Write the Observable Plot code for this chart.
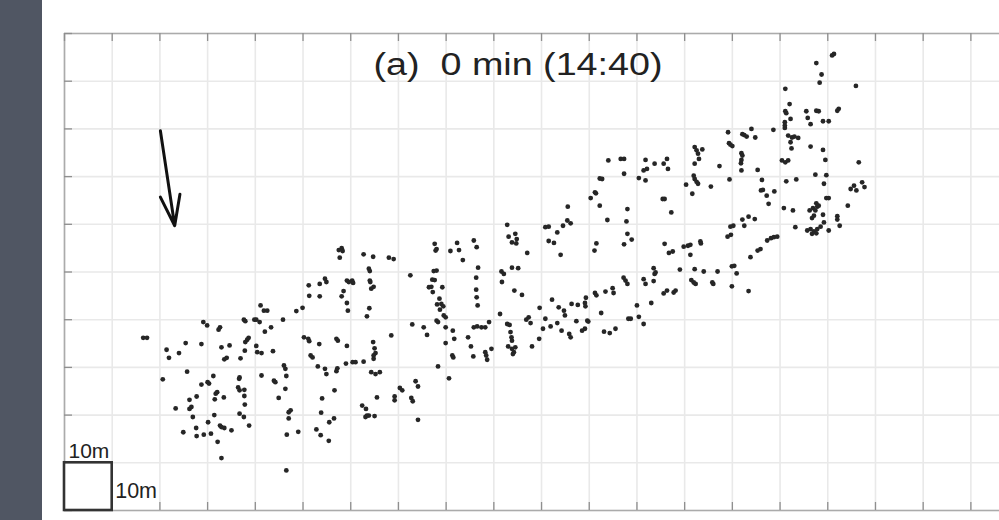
<!DOCTYPE html>
<html>
<head>
<meta charset="utf-8">
<script src="https://cdn.jsdelivr.net/npm/d3@7"></script>
<script src="https://cdn.jsdelivr.net/npm/@observablehq/plot@0.6"></script>
<style>
  html, body { margin: 0; padding: 0; }
  body {
    width: 999px; height: 520px; overflow: hidden;
    background: linear-gradient(to right, #505663 0, #505663 42px, #ffffff 42px);
    font-family: "Liberation Sans", Arial, sans-serif;
  }
  #chart { position: absolute; left: 0; top: 0; }
</style>
</head>
<body>
<div id="chart"></div>
<script>
// Title and annotations
const titleText = "(a)  0 min (14:40)";
const scaleLabel = "10m";
const scaleSize = 10;            // metres, side of the scale square

// Grid every 10 m
const gridX = d3.range(0, 200, 10);
const gridY = d3.range(0, 101, 10);

// Walking direction arrow, [x, y] in metres
const arrowStart = [20.1, 79.6];
const arrowEnd = [23.1, 59.7];

// Pedestrian positions [x, y] in metres, west part of the crowd
const westGroup = [
  [51.2,47.2],[53.5,47.5],[54.9,47.9],[54.6,48.6],[51.3,45.0],[53.5,44.9],[41.1,43.0],[41.8,41.9],[42.5,41.9],
  [48.6,41.8],[49.9,42.5],[29.1,39.5],[29.9,38.8],[32.3,37.9],[32.6,38.4],[37.6,40.0],[37.9,39.7],
  [39.8,40.0],[40.2,40.0],[40.9,39.5],[45.8,40.0],[42.0,37.5],[43.3,38.4],[16.5,36.2],[17.3,36.2],
  [25.4,35.1],[28.7,34.9],[21.4,33.7],[21.9,32.0],[24.0,33.0],[32.9,34.2],[34.6,34.6],[37.9,35.3],
  [38.3,35.8],[38.6,36.2],[37.8,33.5],[40.2,34.5],[40.4,33.2],[41.3,33.0],[43.7,33.4],[33.5,31.7],
  [34.0,32.0],[36.9,31.9],[50.2,36.3],[51.1,36.0],[51.3,35.5],[53.4,34.9],[51.6,32.5],[52.0,32.1],
  [53.1,30.2],[54.6,29.7],[54.9,28.6],[20.6,27.5],[25.7,29.1],[28.7,26.4],[30.0,26.9],[30.3,26.6],
  [31.2,28.2],[36.6,27.6],[36.7,27.9],[41.3,28.3],[43.9,27.2],[44.2,26.9],[46.0,30.4],[46.3,29.7],
  [46.5,28.2],[46.3,25.5],[36.4,25.8],[36.7,25.2],[37.7,25.3],[37.7,24.0],[37.8,22.2],[31.7,24.5],
  [32.0,24.8],[31.5,23.3],[33.4,23.7],[27.7,23.9],[26.2,23.2],[23.3,21.4],[26.2,21.3],[26.6,21.7],
  [26.9,19.6],[31.4,20.0],[36.7,20.3],[37.6,19.6],[38.7,17.8],[44.9,23.6],[47.0,20.6],[47.4,21.0],
  [47.0,19.3],[24.9,16.4],[27.6,17.3],[27.7,15.6],[29.2,15.9],[30.1,18.5],[30.7,16.1],[32.6,17.8],
  [32.9,17.5],[33.5,17.3],[35.0,16.8],[32.1,14.4],[32.9,11.0],[46.6,15.9],[49.0,16.5],[46.5,8.4],
  [54.0,23.5],[53.8,20.5],[52.8,17.0],[53.7,15.8],[55.4,14.6],[55.5,18.5]
];

// Central part of the crowd
const centralGroup = [
  [56.6,25.2],[56.5,19.3],[57.0,29.2],[57.2,29.8],[59.0,30.8],[60.4,31.1],[61.0,31.1],[62.7,31.2],
  [64.3,29.0],[65.2,28.6],[66.1,29.0],[62.4,22.0],[63.2,21.3],[63.4,19.9],[63.1,19.6],[63.8,19.9],
  [65.0,19.8],[65.5,23.7],[69.2,23.9],[69.2,23.1],[70.3,25.7],[70.8,25.2],[72.7,23.6],[73.0,22.9],
  [73.6,27.1],[74.1,26.0],[74.1,19.0],[78.3,30.2],[80.6,27.7],[88.6,31.6],
  [57.5,54.6],[58.1,55.0],[58.3,54.4],[57.7,53.0],[62.7,53.7],[64.7,53.2],[68.0,53.0],[69.0,52.7],
  [77.6,55.9],[77.8,54.5],[78.0,54.8],[80.9,54.4],[82.3,56.1],[82.7,54.6],[83.5,52.5],[85.8,56.6],
  [86.4,55.2],[63.8,50.7],[64.0,50.2],[72.5,49.3],[77.4,50.2],[78.0,50.3],[86.7,50.9],[59.2,48.2],
  [59.6,47.9],[60.3,48.2],[60.5,47.7],[58.5,46.0],[58.1,44.9],[59.2,43.5],[59.4,41.9],[64.0,48.2],
  [64.1,47.9],[64.8,46.9],[64.3,46.5],[63.9,42.4],[63.4,40.7],[77.1,48.4],[77.6,48.3],[76.9,46.9],
  [76.4,46.8],[77.2,45.8],[79.2,46.8],[78.6,44.4],[78.1,43.2],[79.0,43.3],[79.4,42.8],[78.7,42.1],
  [79.5,40.9],[79.9,40.5],[86.3,48.8],[86.3,46.3],[86.4,44.7],[86.6,43.0],[57.0,36.0],[57.3,35.6],
  [59.2,34.5],[64.7,35.3],[65.0,34.0],[65.2,33.0],[64.8,32.5],[64.8,31.8],[68.5,36.7],[72.9,39.0],
  [75.3,38.4],[76.0,36.8],[78.0,39.8],[78.3,39.5],[79.9,38.4],[81.4,37.7],[81.7,36.0],[79.9,35.1],
  [81.3,32.5],[81.5,32.1],[84.6,36.3],[85.2,34.4],[85.7,32.3],[85.8,38.4],[86.5,38.6],[87.4,38.4],
  [88.2,38.4],[89.0,39.5],[88.2,33.2],[88.4,32.5],[89.5,33.9]
];

// Lower band of the east part
const eastLowerGroup = [
  [92.8,39.1],[93.3,38.9],[93.5,37.4],[93.7,36.3],[93.8,35.6],[93.0,34.4],[93.8,33.9],[94.2,33.2],
  [94.5,34.2],[94.0,32.8],[96.8,40.0],[97.3,40.5],[97.7,39.3],[98.0,34.4],[99.5,36.0],[100.3,38.1],
  [100.8,40.2],[101.9,38.6],[103.3,39.3],[104.2,37.7],[105.8,37.0],[106.1,36.3],[107.3,39.7],
  [108.5,37.7],[109.1,38.1],[109.6,39.8],[109.8,39.6],[113.1,37.5],[114.3,37.2],[115.5,38.1],
  [91.3,41.2],[99.6,42.5],[102.2,44.2],[103.6,42.6],[104.7,41.9],[104.9,40.9],[106.3,43.3],
  [107.6,43.1],[109.1,43.5],[109.3,44.6],[109.2,42.8],[111.2,45.6],[111.5,45.1],[113.4,45.9],
  [114.9,46.6],[115.1,45.6],[117.2,48.8],[117.6,48.2],[118.0,47.5],[112.5,41.4],[120.0,43.0],
  [120.4,40.6],[121.4,39.1],[123.0,43.5],[118.2,40.2],[118.7,40.2],[94.3,46.1],[95.9,45.2],
  [91.6,50.1],[92.1,49.6],[93.8,50.9],[95.1,50.8],[91.7,47.9],
  [121.4,48.5],[121.8,47.5],[123.5,48.1],[131.4,48.3],[131.9,47.8],[132.3,47.5],[135.8,47.8],
  [136.0,47.5],[139.9,47.0],[125.6,45.5],[126.3,46.1],[127.7,45.7],[128.1,46.1],[143.4,46.0],
  [123.5,50.8],[123.9,49.9],[123.7,49.6],[129.0,50.5],[132.1,50.6],[134.0,50.1],[136.9,50.1],
  [139.9,51.2],[140.4,51.3],[140.9,49.7],[125.8,55.9],[126.7,54.0],[127.5,54.3],[129.8,55.3],
  [130.7,55.5],[131.2,55.7],[133.3,56.4],[133.4,56.0],[131.2,53.6],[147.3,56.6],[148.1,57.1],
  [148.7,57.3],[149.4,57.4],[145.3,54.5],[145.9,54.8],[143.8,53.1]
];

// Upper band of the east part
const eastUpperGroup = [
  [105.5,63.7],[112.2,63.9],[118.0,63.2],[113.8,60.9],[117.8,60.6],[118.0,58.0],[118.9,56.8],
  [117.3,55.8],[92.8,59.9],[93.1,57.4],[94.5,58.0],[94.8,56.9],[94.7,56.0],[93.8,56.2],[100.8,59.4],
  [101.5,59.5],[103.3,58.3],[104.5,59.7],[105.4,60.8],[106.1,60.2],[101.5,56.5],[102.6,56.1],
  [104.0,53.6],[111.5,56.0],[111.1,54.5],[97.0,54.0],
  [114.0,73.4],[116.6,73.7],[117.3,73.7],[117.3,70.6],[120.4,69.7],[112.2,69.6],[112.7,69.5],
  [111.2,66.7],[111.4,66.5],[110.3,65.5],
  [151.0,81.4],[151.0,80.7],[151.0,80.2],[156.4,81.0],[159.0,81.6],[160.2,81.6],[139.1,79.3],
  [142.1,78.9],[142.5,78.7],[143.0,78.4],[144.0,80.0],[144.8,78.2],[148.6,79.8],[151.7,78.6],
  [152.5,78.2],[153.0,78.4],[153.8,78.1],[152.2,77.2],[152.4,75.9],[156.4,76.3],[159.0,75.6],
  [139.3,77.0],[139.6,76.7],[140.0,76.4],[132.1,76.2],[132.5,75.5],[133.7,75.7],[132.8,74.8],
  [133.0,73.7],[121.8,73.5],[123.7,72.7],[126.3,73.7],[125.6,72.7],[126.5,71.6],[121.4,71.3],
  [122.1,71.6],[132.1,72.7],[137.3,72.2],[141.9,74.9],[142.1,74.4],[141.9,73.5],[141.8,72.8],
  [141.9,71.3],[145.3,71.4],[150.4,73.4],[151.1,73.0],[151.7,73.4],[159.5,73.5],[166.5,73.0],
  [121.8,69.2],[131.9,70.2],[132.1,69.5],[132.5,68.9],[132.8,68.5],[130.3,68.3],[131.6,66.4],
  [135.5,67.9],[139.4,69.4],[146.2,69.3],[146.0,67.1],[146.4,67.2],[147.2,66.0],[147.6,64.3],
  [148.8,66.9],[151.3,69.0],[153.4,69.4],[157.4,70.4],[159.7,70.3],[159.2,68.5],[164.8,67.4],
  [165.5,68.1],[166.0,67.1],[167.2,68.8],[167.7,67.8],[125.4,65.3],[125.8,65.3],[127.2,62.5],
  [150.8,63.4],[152.7,62.9],[156.2,62.9],[156.9,63.4],[157.6,64.4],[157.8,63.7],[157.4,62.9],
  [157.1,61.8],[156.7,61.3],[158.1,63.9],[159.0,62.0],[159.2,60.4],[159.7,65.5],[160.2,65.5],
  [162.0,61.7],[162.0,61.0],[164.2,63.9],[142.1,61.0],[143.4,61.6],[144.7,61.1],[142.5,59.7],
  [139.6,59.5],[140.2,59.7],[139.0,57.4],[139.7,57.8],[153.2,59.4],[155.7,58.7],[156.4,59.0],
  [156.7,58.0],[157.1,58.5],[157.6,58.1],[157.8,59.0],[158.5,59.5],[160.2,58.7],[162.5,59.7],
  [160.9,95.4],[161.3,95.7],[157.6,93.8],[158.7,91.4],[158.3,89.7],[165.9,89.0],[151.1,88.4],
  [152.0,85.2],[151.1,83.7],[151.3,83.3],[152.2,82.1],[155.5,83.7],[155.8,82.3],[157.6,83.8],
  [158.1,83.7],[162.3,84.2],[162.0,83.8]
];

const pedestrians = [...westGroup, ...centralGroup, ...eastLowerGroup, ...eastUpperGroup];

const frameColor = "#ababab";
const plot = Plot.plot({
  width: 999,
  height: 520,
  marginLeft: 64,
  marginRight: 0,
  marginTop: 33,
  marginBottom: 10,
  style: {background: "transparent", fontFamily: "Liberation Sans, Arial, sans-serif"},
  x: {domain: [0, 196], axis: null},
  y: {domain: [0, 100], axis: null},
  marks: [
    Plot.frame({fill: "white", stroke: null}),
    // light grid
    Plot.ruleX(gridX, {stroke: "#e9e9e9", strokeWidth: 1.6}),
    Plot.ruleY(gridY, {stroke: "#e9e9e9", strokeWidth: 1.6}),
    // axis box (left, top, bottom)
    Plot.ruleX([0], {stroke: frameColor, strokeWidth: 1.6}),
    Plot.ruleY([0, 100], {stroke: frameColor, strokeWidth: 1.6}),
    // inward tick marks
    Plot.tickX(gridX, {stroke: "#8f8f8f", strokeWidth: 1.3, insetBottom: 469}),
    Plot.tickX(gridX, {stroke: "#8f8f8f", strokeWidth: 1.3, insetTop: 469}),
    Plot.tickY(gridY, {stroke: "#8f8f8f", strokeWidth: 1.3, insetRight: 927}),
    // scale square
    Plot.rect([{x1: 0, x2: scaleSize, y1: 0, y2: scaleSize}], {
      x1: "x1", x2: "x2", y1: "y1", y2: "y2", fill: "white", stroke: "#333", strokeWidth: 2.6
    }),
    Plot.text([scaleLabel], {
      x: 0, y: scaleSize, text: d => d, textAnchor: "start", lineAnchor: "bottom",
      dx: 4, dy: -5, fontSize: 21, fill: "#222"
    }),
    Plot.text([scaleLabel], {
      x: scaleSize, y: 0, text: d => d, textAnchor: "start", lineAnchor: "bottom",
      dx: 3, dy: -13, fontSize: 21.5, fill: "#222"
    }),
    // pedestrians
    Plot.dot(pedestrians, {x: d => d[0], y: d => d[1], r: 2.4, fill: "#262626", stroke: null}),
    // walking direction
    Plot.arrow([{from: arrowStart, to: arrowEnd}], {
      x1: d => d.from[0], y1: d => d.from[1], x2: d => d.to[0], y2: d => d.to[1],
      stroke: "#111", strokeWidth: 3, headLength: 30, headAngle: 36
    }),
    // panel title
    Plot.text([titleText], {
      frameAnchor: "top", text: d => d, lineAnchor: "bottom",
      dx: -14, dy: 41, fontSize: 31, fill: "#222", className: "panel-title"
    })
  ]
});

// stretch the title to its printed width
d3.select(plot).selectAll(".panel-title text")
  .attr("textLength", 289)
  .attr("lengthAdjust", "spacingAndGlyphs");

document.getElementById("chart").appendChild(plot);
</script>
</body>
</html>
